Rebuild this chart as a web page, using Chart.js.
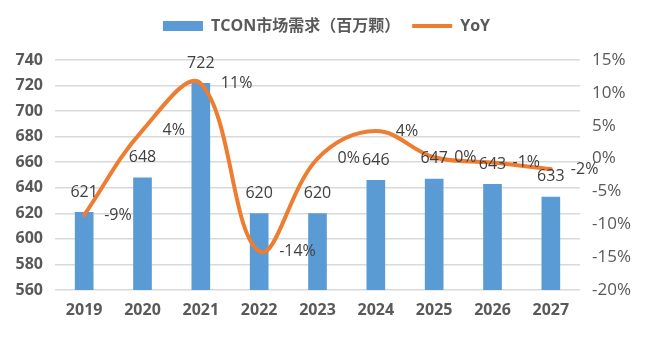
<!DOCTYPE html>
<html><head><meta charset="utf-8">
<script src="https://cdn.jsdelivr.net/npm/chart.js@4/dist/chart.umd.min.js"></script>
<style>html,body{margin:0;padding:0;background:#fff}#wrap{width:653px;height:337px}</style>
</head><body><div id="wrap"><canvas id="c" width="653" height="337"></canvas></div>
<script>
// ---- data ----
const years = ['2019','2020','2021','2022','2023','2024','2025','2026','2027'];
const demand = [621, 648, 722, 620, 620, 646, 647, 643, 633];          // TCON市场需求（百万颗）
const yoy = [-8.6, 4.3, 11.4, -14.1, 0.0, 4.2, 0.2, -0.6, -1.6];      // YoY, %
const leftTicks = [560, 580, 600, 620, 640, 660, 680, 700, 720, 740];
const rightTicks = [-20, -15, -10, -5, 0, 5, 10, 15];
const seriesNames = ['TCON市场需求（百万颗）', 'YoY'];

const FONT = '"Open Sans", "Noto Sans CJK SC", sans-serif';
const BLUE = '#5B9BD5', ORANGE = '#ED7D31';

const legendSpacer = {
  id: 'legendSpacer',
  beforeInit(chart) {
    const lg = chart.legend;
    if (lg && !lg._patched) {
      const fit = lg.fit;
      lg.fit = function () { fit.call(this); this.height = 54; };
      lg._patched = true;
    }
  }
};

const valueLabels = {
  id: 'valueLabels',
  afterDatasetsDraw(chart) {
    const ctx = chart.ctx;
    ctx.save();
    ctx.font = '16px ' + FONT;
    ctx.fillStyle = '#404040';
    ctx.textBaseline = 'middle';
    chart.data.datasets.forEach((ds, di) => {
      const meta = chart.getDatasetMeta(di);
      meta.data.forEach((el, i) => {
        if (ds.type === 'bar') {
          ctx.textAlign = 'center';
          ctx.fillText(String(ds.data[i]), el.x, el.y - 20);
        } else {
          ctx.textAlign = 'left';
          ctx.fillText(Math.round(ds.data[i]) + '%', el.x + 20, el.y);
        }
      });
    });
    ctx.restore();
  }
};

new Chart(document.getElementById('c'), {
  data: {
    labels: years,
    datasets: [
      {
        type: 'line', label: seriesNames[1], data: yoy, yAxisID: 'y2',
        borderColor: ORANGE, backgroundColor: ORANGE, borderWidth: 4,
        pointRadius: 0, tension: 0.38, borderCapStyle: 'round', order: 0
      },
      {
        type: 'bar', label: seriesNames[0], data: demand, yAxisID: 'y',
        backgroundColor: BLUE, borderWidth: 0,
        categoryPercentage: 1, barPercentage: 0.32, order: 1
      }
    ]
  },
  options: {
    responsive: false,
    animation: false,
    layout: { padding: { top: 6, left: 0, right: 0, bottom: 0 } },
    plugins: {
      tooltip: { enabled: false },
      legend: {
        position: 'top',
        labels: {
          usePointStyle: true,
          pointStyleWidth: 40,
          boxHeight: 10,
          padding: 12,
          color: '#595959',
          font: { family: FONT, size: 16, weight: 'bold' },
          generateLabels(chart) {
            const ds = chart.data.datasets;
            return [
              { text: ds[1].label, fillStyle: BLUE, strokeStyle: BLUE, lineWidth: 0, pointStyle: 'rect', datasetIndex: 1, hidden: false, fontColor: '#595959' },
              { text: ds[0].label, fillStyle: ORANGE, strokeStyle: ORANGE, lineWidth: 4, pointStyle: 'line', datasetIndex: 0, hidden: false, fontColor: '#595959' }
            ];
          }
        }
      }
    },
    scales: {
      x: {
        grid: { display: false, drawTicks: false },
        border: { display: false },
        ticks: { color: '#595959', padding: 11, font: { family: FONT, size: 16, weight: 'bold' } },
        afterFit(s) { s.height = 47; }
      },
      y: {
        position: 'left',
        min: leftTicks[0], max: leftTicks[leftTicks.length - 1],
        afterBuildTicks(s) { s.ticks = leftTicks.map(v => ({ value: v })); },
        grid: { color: '#D9D9D9', lineWidth: 1.5, drawTicks: false },
        border: { display: false },
        ticks: { color: '#595959', padding: 12, font: { family: FONT, size: 16, weight: 'bold' } },
        afterFit(s) { s.width = 55; }
      },
      y2: {
        position: 'right',
        min: rightTicks[0], max: rightTicks[rightTicks.length - 1],
        afterBuildTicks(s) { s.ticks = rightTicks.map(v => ({ value: v })); },
        grid: { display: false, drawTicks: false },
        border: { display: false },
        ticks: { color: '#595959', padding: 12, font: { family: FONT, size: 17 }, callback: v => v + '%' },
        afterFit(s) { s.width = 73; }
      }
    }
  },
  plugins: [legendSpacer, valueLabels]
});
</script>
</body></html>
